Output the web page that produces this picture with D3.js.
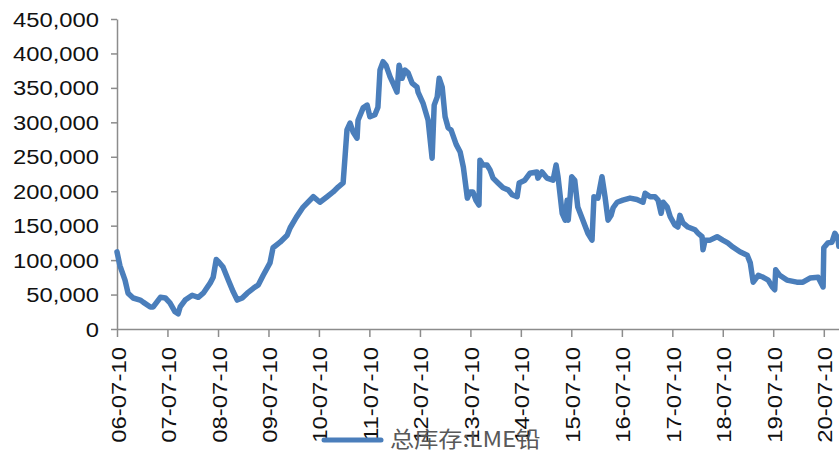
<!DOCTYPE html>
<html lang="zh">
<head>
  <meta charset="utf-8">
  <title>总库存:LME铅</title>
  <script src="https://d3js.org/d3.v7.min.js"></script>
  <style>
    body { margin: 0; background: #fff; }
    svg { display: block; }
  </style>
</head>
<body>
  <div id="chart"></div>
  <script>
    // tick labels
    var yTicks = [0, 50000, 100000, 150000, 200000, 250000, 300000, 350000, 400000, 450000];
    var xTicks = ["2006-07-10", "2007-07-10", "2008-07-10", "2009-07-10", "2010-07-10",
      "2011-07-10", "2012-07-10", "2013-07-10", "2014-07-10", "2015-07-10",
      "2016-07-10", "2017-07-10", "2018-07-10", "2019-07-10", "2020-07-10"];

    var seriesName = "总库存:LME铅";

    // (tonnes)
    var dates = [
      "2006-07-10", "2006-07-31", "2006-09-06", "2006-09-28", "2006-11-04", "2006-12-25",
      "2007-01-15", "2007-03-08", "2007-03-29", "2007-05-20", "2007-06-25", "2007-07-28",
      "2007-09-03", "2007-09-25", "2007-10-10", "2007-11-15", "2008-01-05", "2008-02-18",
      "2008-03-25", "2008-05-15", "2008-06-05", "2008-06-27", "2008-07-17", "2008-08-15",
      "2008-09-22", "2008-10-28", "2008-11-26", "2009-01-01", "2009-02-06", "2009-03-22",
      "2009-04-27", "2009-06-02", "2009-07-21", "2009-08-12", "2009-10-02", "2009-11-22",
      "2009-12-14", "2010-01-27", "2010-03-18", "2010-05-30", "2010-07-17", "2010-09-07",
      "2010-10-21", "2010-11-26", "2011-01-01", "2011-01-15", "2011-01-29", "2011-02-20",
      "2011-03-14", "2011-04-12", "2011-04-19", "2011-05-26", "2011-06-24", "2011-07-14",
      "2011-08-19", "2011-09-10", "2011-09-25", "2011-10-17", "2011-11-07", "2011-12-07",
      "2011-12-28", "2012-01-26", "2012-02-10", "2012-03-03", "2012-03-24", "2012-04-15",
      "2012-05-14", "2012-06-19", "2012-06-26", "2012-08-01", "2012-09-07", "2012-10-06",
      "2012-10-21", "2012-11-12", "2012-11-26", "2012-12-18", "2013-01-08", "2013-01-30",
      "2013-02-20", "2013-03-29", "2013-04-27", "2013-05-20", "2013-06-18", "2013-07-06",
      "2013-07-28", "2013-08-19", "2013-09-10", "2013-09-17", "2013-10-09", "2013-11-07",
      "2013-11-29", "2013-12-21", "2014-01-26", "2014-03-03", "2014-04-09", "2014-05-08",
      "2014-06-13", "2014-06-28", "2014-08-08", "2014-09-13", "2014-11-03", "2014-11-10",
      "2014-12-10", "2015-01-15", "2015-02-28", "2015-03-22", "2015-04-05", "2015-05-05",
      "2015-05-27", "2015-06-10", "2015-06-18", "2015-07-13", "2015-08-04", "2015-08-26",
      "2015-10-02", "2015-11-07", "2015-12-07", "2015-12-21", "2016-01-19", "2016-02-17",
      "2016-03-10", "2016-04-01", "2016-04-23", "2016-05-08", "2016-06-06", "2016-07-17",
      "2016-09-07", "2016-10-27", "2016-12-10", "2016-12-25", "2017-01-30", "2017-03-07",
      "2017-03-29", "2017-04-20", "2017-05-05", "2017-06-03", "2017-06-25", "2017-07-28",
      "2017-08-19", "2017-09-03", "2017-09-25", "2017-10-31", "2017-12-21", "2018-01-12",
      "2018-02-10", "2018-02-17", "2018-03-04", "2018-04-09", "2018-05-30", "2018-07-10",
      "2018-08-15", "2018-09-21", "2018-11-11", "2019-01-03", "2019-01-25", "2019-02-15",
      "2019-03-24", "2019-04-29", "2019-06-04", "2019-07-03", "2019-07-21", "2019-07-28",
      "2019-08-26", "2019-10-17", "2019-12-28", "2020-02-10", "2020-04-01", "2020-05-30",
      "2020-07-05", "2020-07-10", "2020-08-08", "2020-09-07", "2020-09-28", "2020-10-20",
      "2020-10-27"
    ];
    var stocks = [
      112000, 92000, 71000, 52000, 45000, 42000,
      39000, 32000, 32000, 46000, 45000, 38000,
      25000, 22000, 32000, 42000, 49000, 46000,
      52000, 67000, 75000, 101000, 97000, 90000,
      71000, 54000, 42000, 45000, 52000, 59000,
      64000, 78000, 96000, 118000, 126000, 136000,
      147000, 162000, 177000, 192000, 184000, 192000,
      199000, 206000, 212000, 250000, 289000, 299000,
      286000, 277000, 303000, 321000, 325000, 308000,
      311000, 322000, 376000, 388000, 383000, 366000,
      357000, 344000, 383000, 364000, 376000, 372000,
      357000, 351000, 344000, 328000, 303000, 248000,
      325000, 337000, 364000, 351000, 308000, 292000,
      289000, 268000, 257000, 235000, 190000, 199000,
      199000, 187000, 180000, 245000, 238000, 238000,
      231000, 219000, 212000, 205000, 202000, 195000,
      192000, 212000, 216000, 226000, 228000, 219000,
      228000, 219000, 216000, 238000, 221000, 168000,
      158000, 187000, 158000, 221000, 216000, 177000,
      158000, 139000, 129000, 192000, 190000, 221000,
      192000, 158000, 165000, 176000, 184000, 187000,
      190000, 188000, 184000, 197000, 192000, 192000,
      187000, 168000, 184000, 177000, 163000, 151000,
      148000, 165000, 154000, 148000, 144000, 139000,
      134000, 115000, 129000, 129000, 134000, 129000,
      125000, 119000, 112000, 107000, 96000, 68000,
      78000, 75000, 71000, 61000, 57000, 86000,
      78000, 71000, 68000, 68000, 74000, 75000,
      61000, 118000, 125000, 126000, 139000, 132000,
      120000
    ];

    var w = 839;
    var h = 453;
    var parse = d3.utcParse("%Y-%m-%d");
    var axisColor = "#8c8c8c";
    var lineColor = "#4a7ebb";

    var svg = d3.select("#chart")
      .append("svg")
      .attr("width", w)
      .attr("height", h);

    var x = d3.scaleUtc()
      .domain([parse("2006-07-10"), parse("2020-10-28")])
      .range([117, 839]);

    var y = d3.scaleLinear()
      .domain([0, 450000])
      .range([329, 19]);

    // y axis
    var gy = svg.append("g")
      .attr("transform", "translate(117,0)")
      .call(d3.axisLeft(y)
        .tickValues(yTicks)
        .tickSize(6)
        .tickSizeOuter(0)
        .tickFormat(d3.format(",")));

    gy.select(".domain").attr("stroke", axisColor).attr("stroke-width", 1.5);
    gy.selectAll(".tick line").attr("stroke", axisColor).attr("stroke-width", 1.5);
    gy.selectAll(".tick text")
      .attr("x", 0)
      .attr("dy", "0.36em")
      .attr("transform", "translate(-18,0) scale(1.22,1)")
      .attr("text-anchor", "end")
      .attr("fill", "#111")
      .style("font-family", "'Liberation Sans', Arial, sans-serif")
      .style("font-size", "19.5px");

    // x axis
    var gx = svg.append("g")
      .attr("transform", "translate(0,329)")
      .call(d3.axisBottom(x)
        .tickValues(xTicks.map(parse))
        .tickSize(8)
        .tickSizeOuter(0)
        .tickFormat(d3.utcFormat("%y-%m-%d")));

    gx.select(".domain").attr("stroke", axisColor).attr("stroke-width", 1.5);
    gx.selectAll(".tick line").attr("stroke", axisColor).attr("stroke-width", 1.5);
    gx.selectAll(".tick text")
      .attr("x", 0)
      .attr("y", 0)
      .attr("dy", 0)
      .attr("transform", "translate(8,18) rotate(-90) scale(1.14,1)")
      .attr("text-anchor", "end")
      .attr("fill", "#111")
      .style("font-family", "'Liberation Sans', Arial, sans-serif")
      .style("font-size", "21px");

    // series line
    var points = dates.map(function (d, i) {
      return { date: parse(d), value: stocks[i] };
    });

    var line = d3.line()
      .x(function (d) { return x(d.date); })
      .y(function (d) { return y(d.value); });

    svg.append("path")
      .datum(points)
      .attr("fill", "none")
      .attr("stroke", lineColor)
      .attr("stroke-width", 5.5)
      .attr("stroke-linejoin", "round")
      .attr("stroke-linecap", "round")
      .attr("d", line);

    // legend
    var legend = svg.append("g");
    legend.append("line")
      .attr("x1", 324).attr("x2", 381)
      .attr("y1", 440).attr("y2", 440)
      .attr("stroke", lineColor)
      .attr("stroke-width", 5)
      .attr("stroke-linecap", "round");
    legend.append("text")
      .attr("transform", "translate(390,447) scale(1.1,1)")
      .attr("fill", "#595959")
      .style("font-family", "'Noto Sans CJK SC', sans-serif")
      .style("font-size", "22px")
      .text(seriesName);
  </script>
</body>
</html>
